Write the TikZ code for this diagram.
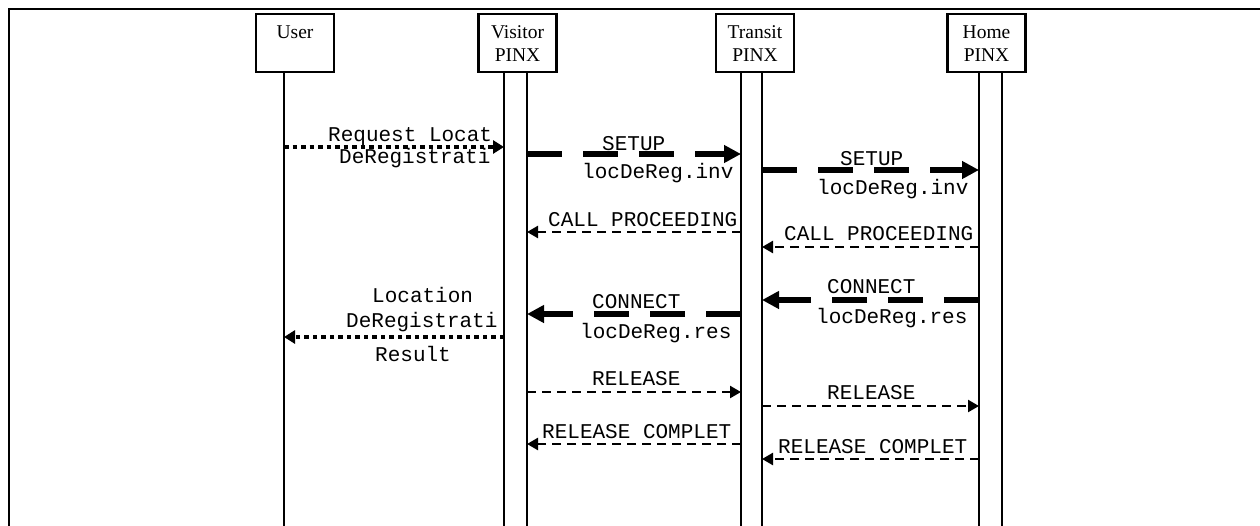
\documentclass[tikz,border=0pt]{standalone}
\usepackage{fontspec}
\setmainfont{Liberation Serif}
\newfontfamily\msgfont{Liberation Mono}
\usetikzlibrary{arrows.meta,positioning}
\tikzset{entity/.style={rectangle,draw,line width=2.4pt,minimum width=78pt,minimum height=58pt,inner xsep=2pt,inner ysep=11pt,align=center,anchor=north,font=\fontsize{19.5}{23}\selectfont},
         lifeline/.style={line width=2.4pt},
         msg label/.style={anchor=base west,inner sep=0pt,font=\msgfont\fontsize{21}{25}\selectfont},
         bold msg/.style={line width=6pt,dash pattern=on 35pt off 21pt,-{Triangle[length=17pt,width=17pt]}},
         thin msg/.style={line width=2.4pt,dash pattern=on 9pt off 6pt,-{Triangle[length=11pt,width=12pt]}},
         dot msg/.style={line width=3.4pt,dash pattern=on 4.5pt off 4pt,-{Triangle[length=11pt,width=13pt]}},
}
\begin{document}
\begin{tikzpicture}[x=1pt,y=-1pt]

\useasboundingbox (0,0) rectangle (1260,525);

% frame, cut off by the page on the right and at the bottom
\draw[line width=2.4pt] (9,540) -- (9,9) -- (1275,9);

% entities
\node[entity] (user) at (295,13) {User\\~};
\node[entity] (visitor) at (517.5,13) {Visitor\\PINX};
\node[entity] (transit) at (755,13) {Transit\\PINX};
\node[entity] (home) at (986.5,13) {Home\\PINX};

% lifelines
\coordinate (uA) at (284,71);
\coordinate (vA) at (504,71);
\coordinate (vB) at (527,71);
\coordinate (tA) at (741,71);
\coordinate (tB) at (762,71);
\coordinate (hA) at (979,71);
\coordinate (hB) at (1002,71);
\foreach \c in {uA,vA,vB,tA,tB,hA,hB}
    \draw[lifeline] (\c) -- (\c |- 0,540);

% messages
\draw[dot msg] (uA |- 0,147) -- (vA |- 0,147);
\draw[bold msg] (vB |- 0,154) -- (tA |- 0,154);
\draw[bold msg] (tB |- 0,170) -- (hA |- 0,170);
\draw[thin msg] (tA |- 0,232) -- (vB |- 0,232);
\draw[thin msg] (hA |- 0,247) -- (tB |- 0,247);
\draw[bold msg] (hA |- 0,300) -- (tB |- 0,300);
\draw[bold msg] (tA |- 0,314) -- (vB |- 0,314);
\draw[dot msg] (vA |- 0,337) -- (uA |- 0,337);
\draw[thin msg] (vB |- 0,392) -- (tA |- 0,392);
\draw[thin msg] (tB |- 0,406) -- (hA |- 0,406);
\draw[thin msg] (tA |- 0,444) -- (vB |- 0,444);
\draw[thin msg] (hA |- 0,459) -- (tB |- 0,459);

% labels, user side
\node[msg label] (reqA) at (328,141.5) {Request Locat};
\node[msg label] (reqB) at (339,163) {DeRegistrati};
\node[msg label] (resA) at (372,302) {Location};
\node[msg label] (resB) at (346,327) {DeRegistrati};
\node[msg label] (resC) at (375,361) {Result};

% labels, visitor - transit
\node[msg label] (setupA) at (602,150) {SETUP};
\node[msg label] (invA) at (582,178) {locDeReg.inv};
\node[msg label] (procA) at (548,226) {CALL PROCEEDING};
\node[msg label] (connA) at (592,308) {CONNECT};
\node[msg label] (resultA) at (580,338) {locDeReg.res};
\node[msg label] (relA) at (592,385) {RELEASE};
\node[msg label] (compA) at (542,438) {RELEASE COMPLET};

% labels, transit - home
\node[msg label] (setupB) at (840,165) {SETUP};
\node[msg label] (invB) at (817,194) {locDeReg.inv};
\node[msg label] (procB) at (784,240) {CALL PROCEEDING};
\node[msg label] (connB) at (827,293) {CONNECT};
\node[msg label] (resultB) at (816,323) {locDeReg.res};
\node[msg label] (relB) at (827,399) {RELEASE};
\node[msg label] (compB) at (778,453) {RELEASE COMPLET};

\end{tikzpicture}
\end{document}
